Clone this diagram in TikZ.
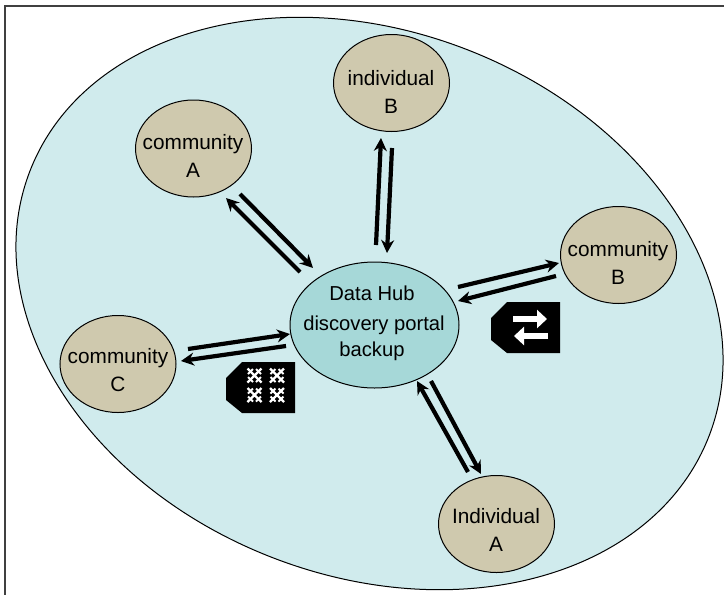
\documentclass[tikz,border=0pt]{standalone}
\usepackage{fontspec}
\setmainfont{Liberation Sans}
\usetikzlibrary{arrows.meta,shapes.geometric}
\definecolor{lagoon}{HTML}{D0EBED}
\definecolor{tan1}{HTML}{CFC9AE}
\definecolor{hubc}{HTML}{A6D8D8}
\tikzset{
 party/.style={ellipse,draw=black,line width=1pt,fill=tan1,minimum width=116pt,minimum height=97pt,inner sep=0pt},
 partytext/.style={align=center,inner sep=0pt,font=\fontsize{20.8}{28}\selectfont},
 hubnode/.style={ellipse,draw=black,line width=1pt,fill=hubc,minimum width=169pt,minimum height=126pt,inner sep=0pt},
 flow/.style={line width=4.2pt,-{Stealth[length=13pt,width=13pt]}},
 hubtext/.style={font=\fontsize{20.2}{24}\selectfont,inner sep=0pt},
 tagshape/.style={fill=black},
 glyph/.style={white,line width=2pt},
 whitearrow/.style={white,line width=6pt,-{Triangle[length=10pt,width=18pt]}}
}
\newcommand{\knot}[2]{%
 \begin{scope}[shift={(#1,#2)}]
  \draw[glyph,line width=2.4pt] (-7,-7) -- (7,7) (-7,7) -- (7,-7);
  \draw[glyph,line width=1.8pt] (-6.5,-1.5) -- (-1.5,-6.5) (1.5,6.5) -- (6.5,1.5) (-6.5,1.5) -- (-1.5,6.5) (1.5,-6.5) -- (6.5,-1.5);
 \end{scope}}
\newcommand{\tagbody}[2]{%
 \fill[tagshape,shift={(#1,#2)}] (16,0) -- (69,0) -- (69,51) -- (16,51) -- (0,38) -- (0,16) -- cycle;}
\begin{document}
\begin{tikzpicture}[x=1pt,y=-1pt]
\useasboundingbox (0,0) rectangle (724,595);
\fill[white] (0,0) rectangle (724,595);
\draw[black!75,line width=1.6pt] (5,595) -- (5,6) -- (724,6);
\draw[black,line width=1pt,fill=lagoon,rotate around={-21.5:(369.5,303.5)}] (369.5,303.5) ellipse [x radius=364.5,y radius=272];

\coordinate (a1) at (240,194);\coordinate (a2) at (313,268);
\coordinate (a3) at (300,272);\coordinate (a4) at (226,198);
\coordinate (b1) at (376,245);\coordinate (b2) at (381,138);
\coordinate (b3) at (392,148);\coordinate (b4) at (387,253);
\coordinate (c1) at (458,287);\coordinate (c2) at (559,263);
\coordinate (c3) at (556,276);\coordinate (c4) at (458,301);
\coordinate (d1) at (188,349);\coordinate (d2) at (290,334);
\coordinate (d3) at (286,346);\coordinate (d4) at (181,361);
\coordinate (e1) at (468,472);\coordinate (e2) at (417,381);
\coordinate (e3) at (431,381);\coordinate (e4) at (481,474);
\foreach \s/\t in {a1/a2,a3/a4,b1/b2,b3/b4,c1/c2,c3/c4,d1/d2,d3/d4,e1/e2,e3/e4}
  \draw[flow] (\s) -- (\t);

\node[hubnode] (hub) at (374.5,325) {};
\node[hubtext] (hubA) at (372,293) {Data Hub};
\node[hubtext] (hubB) at (374,325) {discovery portal};
\node[hubtext] (hubC) at (372,351) {backup};
\node[party] (ca) at (193.5,148.5) {};
\node[party] (ib) at (391.5,83) {};
\node[party] (cb) at (618.5,255) {};
\node[party] (cc) at (118,364) {};
\node[party] (ia) at (496.5,524) {};
\node[partytext] (cat) at (193,156) {community\\A};
\node[partytext] (ibt) at (391,92) {individual\\B};
\node[partytext] (cbt) at (618,263) {community\\B};
\node[partytext] (cct) at (118,370) {community\\C};
\node[partytext] (iat) at (496,530) {Individual\\A};

\tagbody{491}{302}
\draw[whitearrow] (513,319) -- (547,319);
\draw[whitearrow] (548,336) -- (514,336);
\tagbody{226}{362}
\knot{254.5}{375.5}\knot{277}{375.5}\knot{254.5}{395}\knot{277}{395}
\end{tikzpicture}
\end{document}
